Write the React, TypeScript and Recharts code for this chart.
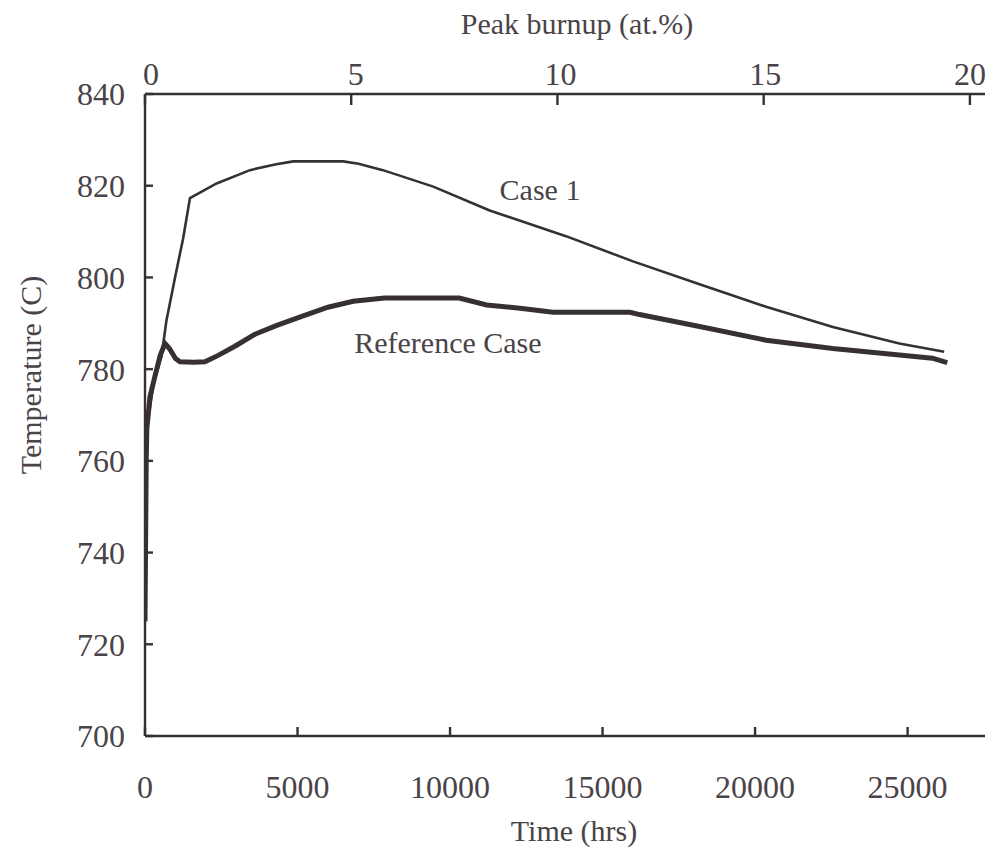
import React from 'react';
import { LineChart, Line, XAxis, YAxis, ReferenceDot, Label } from 'recharts';

// Fuel temperature history, time in hours
const caseOneHours = [
  0, 40, 80, 273, 546, 700, 1000, 1250, 1474, 2348, 3440, 4300, 4860, 6500,
  7000, 7800, 9450, 11300, 13800, 16000, 18180, 20360, 22550, 24730, 26200,
];
const caseOneTemps = [
  725, 760, 768, 776.5, 783, 790.5, 800.5, 808.5, 817.3, 820.5, 823.4, 824.7,
  825.3, 825.3, 824.8, 823.4, 819.8, 814.6, 809, 803.5, 798.5, 793.6, 789.2,
  785.6, 783.8,
];

const referenceHours = [
  0, 40, 60, 164, 327, 500, 655, 800, 1000, 1146, 1600, 1965, 2400, 2948, 3603,
  4300, 5186, 6000, 6823, 7850, 10300, 11200, 12290, 13380, 15900, 16213,
  18179, 20363, 22546, 24730, 25811, 26300,
];
const referenceTemps = [
  725, 760, 767, 774, 778.5, 783, 785.6, 784.5, 782.3, 781.6, 781.5, 781.6,
  783, 785, 787.6, 789.5, 791.6, 793.5, 794.8, 795.5, 795.5, 794, 793.3, 792.4,
  792.4, 791.9, 789.3, 786.3, 784.5, 783.1, 782.4, 781.4,
];

const timeTicks = [0, 5000, 10000, 15000, 20000, 25000];
const burnupTicks = [0, 5, 10, 15, 20];
const tempTicks = [700, 720, 740, 760, 780, 800, 820, 840];

const caseOneData = caseOneHours.map((t, i) => ({ t, T: caseOneTemps[i] }));
const referenceData = referenceHours.map((t, i) => ({ t, T: referenceTemps[i] }));
// the top (burnup) axis reads its values from the chart-level data
const burnupData = burnupTicks.map((burnup) => ({ burnup }));

const INK = '#363035';
const TEXT = '#4a4347';
const FONT = '"Liberation Serif", "Times New Roman", serif';
const TICK_FONT = 32;

const lineStyle = { stroke: INK, strokeWidth: 2.4 };

// ticks point into the plot, so the tick mark is drawn by the tick renderer
const BottomTick = ({ x, y, payload }: any) => {
  const axisY = y - 39;
  return (
    <g>
      <line x1={x} x2={x} y1={axisY} y2={axisY - 9} {...lineStyle} />
      <text x={x} y={y} dy="0.71em" textAnchor="middle" fill={TEXT} fontSize={TICK_FONT} fontFamily={FONT}>
        {payload.value}
      </text>
    </g>
  );
};

const TopTick = ({ x, y, payload }: any) => {
  const axisY = y + 9;
  const shift = 6 - payload.value * 0.3;
  return (
    <g>
      <line x1={x} x2={x} y1={axisY} y2={axisY + 11} {...lineStyle} />
      <text x={x + shift} y={y} textAnchor="middle" fill={TEXT} fontSize={TICK_FONT} fontFamily={FONT}>
        {payload.value}
      </text>
    </g>
  );
};

const LeftTick = ({ x, y, payload }: any) => {
  const axisX = x + 20;
  return (
    <g>
      <line x1={axisX} x2={axisX + 8} y1={y} y2={y} {...lineStyle} />
      <text x={x} y={y} dy="0.355em" textAnchor="end" fill={TEXT} fontSize={TICK_FONT} fontFamily={FONT}>
        {payload.value}
      </text>
    </g>
  );
};

const TempTitle = ({ viewBox }: any) => {
  const x = viewBox.x + 22;
  const y = viewBox.y + viewBox.height / 2 - 40;
  return (
    <text
      x={x}
      y={y}
      transform={`rotate(-90, ${x}, ${y})`}
      textAnchor="middle"
      dominantBaseline="central"
      fill={TEXT}
      fontSize={30}
      fontFamily={FONT}
    >
      Temperature (C)
    </text>
  );
};

const App = () => {
  return (
    <div style={{ width: 985, height: 843, overflow: 'hidden', background: '#fff' }}>
      <LineChart
        width={985}
        height={843}
        data={burnupData}
        margin={{ top: 0, right: 0, bottom: 0, left: 0 }}
      >
        <XAxis
          xAxisId="bottom"
          dataKey="t"
          type="number"
          orientation="bottom"
          domain={[0, 27800]}
          ticks={timeTicks}
          allowDataOverflow
          height={115}
          tickSize={0}
          tickMargin={39}
          tick={<BottomTick />}
          axisLine={lineStyle}
          tickLine={false}
        >
          <Label
            value="Time (hrs)"
            position="insideBottom"
            offset={10}
            dx={5}
            fill={TEXT}
            fontSize={30}
            fontFamily={FONT}
          />
        </XAxis>
        <XAxis
          xAxisId="top"
          dataKey="burnup"
          type="number"
          orientation="top"
          domain={[0, 20.56]}
          ticks={burnupTicks}
          allowDataOverflow
          height={86}
          tickSize={0}
          tickMargin={9}
          tick={<TopTick />}
          axisLine={lineStyle}
          tickLine={false}
        >
          <Label
            value="Peak burnup (at.%)"
            position="insideTop"
            offset={5}
            dx={8}
            fill={TEXT}
            fontSize={30}
            fontFamily={FONT}
          />
        </XAxis>
        <YAxis
          type="number"
          domain={[700, 840]}
          ticks={tempTicks}
          allowDataOverflow
          width={137}
          tickSize={0}
          tickMargin={20}
          tick={<LeftTick />}
          axisLine={lineStyle}
          tickLine={false}
          label={<TempTitle />}
        />
        <Line
          xAxisId="bottom"
          data={referenceData}
          dataKey="T"
          type="linear"
          stroke={INK}
          strokeWidth={5}
          dot={false}
          isAnimationActive={false}
        />
        <Line
          xAxisId="bottom"
          data={caseOneData}
          dataKey="T"
          type="linear"
          stroke={INK}
          strokeWidth={2.6}
          dot={false}
          isAnimationActive={false}
        />
        <ReferenceDot
          xAxisId="bottom"
          x={12950}
          y={819.1}
          r={0}
          label={{ value: 'Case 1', position: 'center', fill: TEXT, fontSize: 30, fontFamily: FONT }}
        />
        <ReferenceDot
          xAxisId="bottom"
          x={9930}
          y={785.9}
          r={0}
          label={{ value: 'Reference Case', position: 'center', fill: TEXT, fontSize: 30, fontFamily: FONT }}
        />
      </LineChart>
    </div>
  );
};

export default App;
